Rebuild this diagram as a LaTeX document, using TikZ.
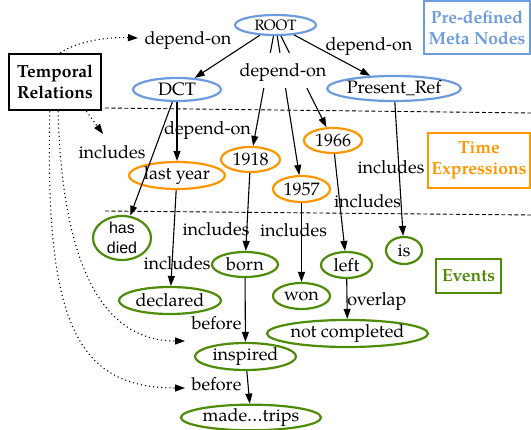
\documentclass[tikz,border=0pt]{standalone}
\usepackage{fontspec}
\setmainfont{texgyrepagella}[Extension=.otf,UprightFont=*-regular,BoldFont=*-bold,ItalicFont=*-italic,BoldItalicFont=*-bolditalic]
\newfontfamily\hvfont{Liberation Sans}
\usetikzlibrary{shapes.geometric,arrows.meta}
\definecolor{mblue}{RGB}{108,155,222}
\definecolor{morange}{RGB}{255,150,0}
\definecolor{mgreen}{RGB}{78,140,8}
\begin{document}
\begin{tikzpicture}[x=1pt,y=-1pt,
  every node/.style={font=\fontsize{18}{21}\selectfont, inner sep=0pt},
  ell/.style={ellipse, draw, line width=2.2pt},
  meta/.style={ell, draw=mblue},
  tex/.style={ell, draw=morange},
  ev/.style={ell, draw=mgreen},
  dep/.style={-{Triangle[length=10pt,width=7pt]}, line width=1.1pt},
  rel/.style={-{Triangle[length=10pt,width=7pt]}, line width=1.1pt, dash pattern=on 1.1pt off 3pt},
  sep/.style={dash pattern=on 4pt off 2.5pt, line width=0.9pt},
  box/.style={draw, rectangle, line width=2pt, align=center, font=\fontsize{17.5}{21}\selectfont\bfseries}
]
\useasboundingbox (0,0) rectangle (531,430);

% separators
\draw[sep] (105,108) -- (531,113);
\draw[sep] (105,211) -- (531,215);

% legend boxes
\node[box, line width=2.4pt, minimum width=92, minimum height=56] (tr) at (55,82) {Temporal\\Relations};
\node[box, draw=mblue, text=mblue, minimum width=106, minimum height=53] (pm) at (477,27.5) {Pre-defined\\Meta Nodes};
\node[box, draw=morange, text=morange, minimum width=102, minimum height=55] (te) at (479,160.5) {Time\\Expressions};
\node[box, draw=mgreen, text=mgreen, minimum width=65, minimum height=34] (evb) at (468.5,276) {Events};

% meta nodes
\node[meta, minimum width=81, minimum height=20, font=\fontsize{15}{16}\selectfont] (root) at (275.5,25) {ROOT};
\node[meta, minimum width=88, minimum height=23] (dct) at (177,89.5) {DCT};
\node[meta, minimum width=130, minimum height=25] (pref) at (394,88.5) {Present\_Ref};

% time expressions
\node[tex, minimum width=96, minimum height=27] (ly) at (177,175.5) {last year};
\node[tex, minimum width=59, minimum height=25] (y18) at (250.5,159.5) {1918};
\node[tex, minimum width=57, minimum height=26] (y57) at (301.5,189) {1957};
\node[tex, minimum width=58, minimum height=25] (y66) at (333,140.5) {1966};

% events
\node[ev, inner sep=-4pt, minimum width=58, minimum height=44, font=\fontsize{16}{20}\selectfont\hvfont, align=center] (died) at (122,238) {has\\died};
\node[ev, minimum width=66, minimum height=25] (born) at (245,264.5) {born};
\node[ev, minimum width=51, minimum height=26] (left) at (346.5,265) {left};
\node[ev, minimum width=36, minimum height=27] (is) at (404,250.5) {is};
\node[ev, minimum width=57, minimum height=26] (won) at (301.5,296) {won};
\node[ev, minimum width=102, minimum height=27] (decl) at (170,300.5) {declared};
\node[ev, minimum width=159, minimum height=27] (notc) at (347.5,333.5) {not completed};
\node[ev, minimum width=101, minimum height=27] (insp) at (245.5,356.5) {inspired};
\node[ev, minimum width=140, minimum height=24] (made) at (251,417.5) {made…trips};

% edges
\draw[dep] (root) -- (dct);
\draw[dep] (root) -- (pref);
\draw[dep] (root) -- (y18);
\draw[dep] (root) -- (y57);
\draw[dep] (root) -- (y66);
\draw[dep] (dct) -- (ly);
\draw[dep] (dct) -- (died);
\draw[dep] (ly) -- (decl);
\draw[dep] (y18) -- (born);
\draw[dep] (y57) -- (won);
\draw[dep] (y66) -- (left);
\draw[dep] (pref) -- (is);
\draw[dep] (born) -- (insp);
\draw[dep] (left) -- (notc);
\draw[dep] (insp) -- (made);

% edge labels
\node[fill=white, minimum width=84, minimum height=35, text height=13pt, text depth=0pt] (l3) at (283,70.5) {depend-on};
\node (l1) at (188,40) {depend-on};
\node (l2) at (369,46) {depend-on};
\node (l4) at (207.5,130) {depend-on};
\node (l5) at (112,152) {includes};
\node (l6) at (177,263) {includes};
\node (l7) at (216,229) {includes};
\node (l8) at (293.5,230.5) {includes};
\node (l9) at (367.5,201) {includes};
\node (l10) at (391,167) {includes};
\node (l11) at (216.5,323) {before};
\node (l12) at (377,301) {overlap};
\node (l13) at (216.5,384) {before};

% temporal relation pointers
\coordinate (a1) at (138,38);
\coordinate (a2) at (103,134);
\coordinate (a3) at (185,341);
\coordinate (a4) at (185,388);
\draw[rel] (tr.80) .. controls (80,40) and (110,37) .. (a1);
\draw[rel] (tr.-43) -- (a2);
\draw[rel] (tr.-84) .. controls (62,260) and (100,341) .. (a3);
\draw[rel] (tr.-100) .. controls (45,320) and (75,388) .. (a4);
\end{tikzpicture}
\end{document}
